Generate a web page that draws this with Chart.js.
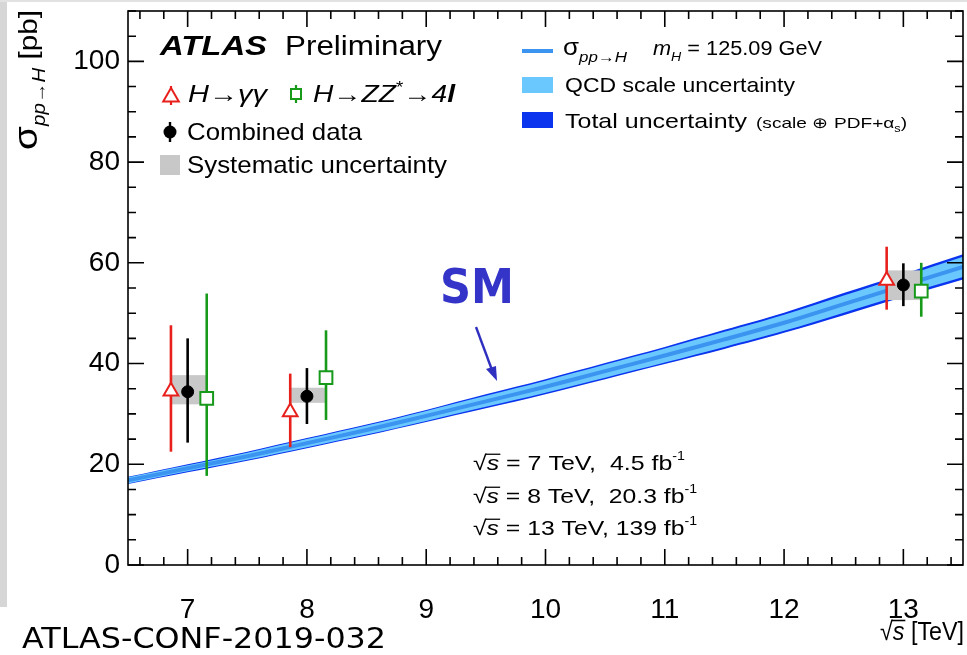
<!DOCTYPE html>
<html>
<head>
<meta charset="utf-8">
<script src="https://cdn.jsdelivr.net/npm/chart.js@4.4.1/dist/chart.umd.min.js"></script>
<style>
  html, body { margin: 0; padding: 0; background: #fff; overflow: hidden; }
  canvas { display: block; }
</style>
</head>
<body>
<canvas id="xsec" width="967" height="655"></canvas>
<script>
// Higgs production cross section vs centre-of-mass energy
const xTicks = [7, 8, 9, 10, 11, 12, 13];
const yTicks = [0, 20, 40, 60, 80, 100];

// SM prediction (pb) on a sqrt(s) grid
const sqrtS      = [6.5, 7, 7.5, 8, 8.5, 9, 9.5, 10, 10.5, 11, 11.5, 12, 12.5, 13, 13.5];
const smCentral  = [16.8, 19.2, 21.6, 24.2, 26.8, 29.6, 32.5, 35.4, 38.5, 41.6, 44.8, 48.1, 51.8, 55.5, 59.2];
const qcdHi      = [17.4, 19.8, 22.3, 25.0, 27.7, 30.6, 33.6, 36.6, 39.8, 43.0, 46.3, 49.7, 53.5, 57.3, 61.2];
const qcdLo      = [16.2, 18.6, 20.9, 23.4, 25.9, 28.6, 31.4, 34.2, 37.2, 40.2, 43.3, 46.5, 50.1, 53.7, 57.2];
const totHi      = [17.5, 20.0, 22.5, 25.2, 27.9, 30.8, 33.9, 36.9, 40.1, 43.3, 46.7, 50.1, 54.0, 57.8, 61.7];
const totLo      = [16.1, 18.4, 20.7, 23.2, 25.7, 28.4, 31.1, 33.9, 36.9, 39.9, 42.9, 46.1, 49.6, 53.2, 56.7];

// measurements (pb)
const ggX   = [6.86, 7.86, 12.86];
const ggY   = [34.5, 30.4, 56.5];
const ggLo  = [22.5, 23.4, 50.7];
const ggHi  = [47.6, 38.0, 63.2];

const zzX   = [7.16, 8.16, 13.15];
const zzY   = [33.1, 37.2, 54.4];
const zzLo  = [17.7, 28.8, 49.3];
const zzHi  = [53.9, 46.6, 60.0];

const combX  = [7, 8, 13];
const combY  = [34.4, 33.5, 55.6];
const combLo = [24.3, 28.0, 51.4];
const combHi = [45.0, 39.1, 59.9];

const sysLo = [31.9, 32.2, 52.6];
const sysHi = [37.7, 35.2, 58.5];

const F = 'Liberation Sans';
const RED = '#e8201c', GREEN = '#17991a', GREY = '#c8c8c8';
const LINE_BLUE = '#3b94f0', QCD_BLUE = '#6ac8ff', TOT_BLUE = '#0a34ee';

const pts = (xs, ys) => xs.map((x, i) => ({ x: x, y: ys[i] }));

// draw a run of text pieces (font size, style, vertical shift), optionally squeezed to a width
function rich(ctx, x, y, parts, width) {
  let total = 0;
  const ws = parts.map(p => {
    ctx.font = `${p.st || ''} ${p.s}px ${p.fam || F}`;
    const w = ctx.measureText(p.t).width;
    total += w;
    return w;
  });
  ctx.save();
  ctx.translate(x, y);
  if (width) ctx.scale(width / total, 1);
  let cx = 0;
  parts.forEach((p, i) => {
    ctx.font = `${p.st || ''} ${p.s}px ${p.fam || F}`;
    ctx.fillText(p.t, cx, p.dy || 0);
    if (p.over) ctx.fillRect(cx - 1, (p.dy || 0) - p.s * 0.78, ws[i] + 2, Math.max(1.2, p.s * 0.06));
    cx += ws[i];
  });
  ctx.restore();
}

function triangle(ctx, x, y, r) {
  ctx.beginPath();
  ctx.moveTo(x, y - r);
  ctx.lineTo(x + r * 0.866, y + r / 2);
  ctx.lineTo(x - r * 0.866, y + r / 2);
  ctx.closePath();
}

const bandLine = (data, extra) => Object.assign({
  data: data, showLine: true, pointRadius: 0, borderWidth: 0, tension: 0.35
}, extra);

// the frame runs to 4px from the right edge of the canvas
const pinArea = {
  id: 'pinArea',
  afterLayout(chart) {
    const a = chart.chartArea, xs = chart.scales.x;
    a.right = chart.width - 4;
    a.width = a.right - a.left;
    xs.right = a.right;
    xs.width = xs.right - xs.left;
    xs.configure();
  }
};

const backdrop = {
  id: 'backdrop',
  beforeDraw(chart) {
    const c = chart.ctx;
    c.save();
    c.fillStyle = '#fff';
    c.fillRect(0, 0, chart.width, chart.height);
    c.fillStyle = '#d6d6d6';
    c.fillRect(0, 0, 7, 607);
    c.fillStyle = '#e2e2e2';
    c.fillRect(0, 0, chart.width, 2);
    c.restore();
  }
};

// systematic boxes and error bars, drawn on top of the SM band
const errorBars = {
  id: 'errorBars',
  afterDatasetDraw(chart, args) {
    if (args.index !== 3) return;
    const c = chart.ctx, xs = chart.scales.x, ys = chart.scales.y;
    const a = chart.chartArea;
    c.save();
    c.beginPath();
    c.rect(a.left, a.top, a.right - a.left, a.bottom - a.top);
    c.clip();
    c.fillStyle = GREY;
    combX.forEach((x, i) => {
      const x0 = xs.getPixelForValue(ggX[i]), x1 = xs.getPixelForValue(zzX[i]);
      const y0 = ys.getPixelForValue(sysHi[i]), y1 = ys.getPixelForValue(sysLo[i]);
      c.fillRect(x0, y0, x1 - x0, y1 - y0);
    });
    const bars = [[ggX, ggLo, ggHi, RED], [zzX, zzLo, zzHi, GREEN], [combX, combLo, combHi, '#000']];
    c.lineWidth = 2.6;
    bars.forEach(([bx, lo, hi, col]) => {
      c.strokeStyle = col;
      bx.forEach((x, i) => {
        const px = xs.getPixelForValue(x);
        c.beginPath();
        c.moveTo(px, ys.getPixelForValue(lo[i]));
        c.lineTo(px, ys.getPixelForValue(hi[i]));
        c.stroke();
      });
    });
    c.restore();
  }
};

// frame with inward ticks on all four sides
const frame = {
  id: 'frame',
  afterDraw(chart) {
    const c = chart.ctx, xs = chart.scales.x, ys = chart.scales.y;
    const a = chart.chartArea;
    c.save();
    c.strokeStyle = '#000';
    c.lineWidth = 1.6;
    c.strokeRect(a.left, a.top, a.right - a.left, a.bottom - a.top);
    c.beginPath();
    for (let v = 0; v <= 110; v += 5) {
      const py = ys.getPixelForValue(v);
      const len = v % 20 === 0 ? 16 : 8;
      c.moveTo(a.left, py); c.lineTo(a.left + len, py);
      c.moveTo(a.right, py); c.lineTo(a.right - len, py);
    }
    for (let k = 33; k <= 67; k++) {
      const px = xs.getPixelForValue(k / 5);
      const len = k % 5 === 0 ? 16 : 8;
      c.moveTo(px, a.bottom); c.lineTo(px, a.bottom - len);
      c.moveTo(px, a.top); c.lineTo(px, a.top + len);
    }
    c.stroke();
    c.restore();
  }
};

const labels = {
  id: 'labels',
  afterDraw(chart) {
    const c = chart.ctx;
    c.save();
    c.fillStyle = '#000';
    c.textBaseline = 'alphabetic';
    c.textAlign = 'left';

    // experiment label
    rich(c, 160, 55, [{ t: 'ATLAS', s: 28, st: 'italic bold' }], 107);
    rich(c, 285, 55, [{ t: 'Preliminary', s: 28 }], 157);

    // left legend
    c.lineWidth = 2.2;
    c.strokeStyle = RED;
    c.beginPath(); c.moveTo(171, 86); c.lineTo(171, 105); c.stroke();
    c.fillStyle = '#fff'; c.lineWidth = 2;
    triangle(c, 171, 97, 9); c.fill(); c.stroke();
    c.fillStyle = '#000';
    rich(c, 188, 102, [{ t: 'H→γγ', s: 24, st: 'italic' }], 79);

    c.strokeStyle = GREEN; c.lineWidth = 2.2;
    c.beginPath(); c.moveTo(296, 85); c.lineTo(296, 103); c.stroke();
    c.fillStyle = '#fff'; c.lineWidth = 2;
    c.fillRect(291, 89, 10, 10); c.strokeRect(291, 89, 10, 10);
    c.fillStyle = '#000';
    rich(c, 313, 102, [
      { t: 'H→ZZ', s: 24, st: 'italic' },
      { t: '*', s: 16, dy: -9 },
      { t: '→4', s: 24, st: 'italic' },
      { t: 'l', s: 24, st: 'italic bold' }
    ], 142);

    c.strokeStyle = '#000'; c.lineWidth = 2.4;
    c.beginPath(); c.moveTo(170, 122); c.lineTo(170, 142); c.stroke();
    c.beginPath(); c.arc(170, 132, 6.5, 0, Math.PI * 2); c.fill();
    rich(c, 187, 140, [{ t: 'Combined data', s: 24 }], 175);

    c.fillStyle = GREY;
    c.fillRect(160, 155, 20, 20);
    c.fillStyle = '#000';
    rich(c, 187, 173, [{ t: 'Systematic uncertainty', s: 24 }], 260);

    // right legend
    c.strokeStyle = LINE_BLUE; c.lineWidth = 4;
    c.beginPath(); c.moveTo(522, 51); c.lineTo(553, 51); c.stroke();
    rich(c, 563, 55, [
      { t: 'σ', s: 23 },
      { t: 'pp→H', s: 15, st: 'italic', dy: 7 }
    ], 64);
    rich(c, 653, 55, [
      { t: 'm', s: 20, st: 'italic' },
      { t: 'H', s: 13, st: 'italic', dy: 6 },
      { t: ' = 125.09 GeV', s: 20 }
    ], 169);
    c.fillStyle = QCD_BLUE; c.fillRect(522, 77, 31, 16);
    c.fillStyle = TOT_BLUE; c.fillRect(522, 112, 31, 16);
    c.fillStyle = '#000';
    rich(c, 565, 92, [{ t: 'QCD scale uncertainty', s: 21 }], 230);
    rich(c, 565, 128, [{ t: 'Total uncertainty', s: 21 }], 182);
    rich(c, 756, 128, [
      { t: '(scale ⊕ PDF+α', s: 15 },
      { t: 's', s: 10, dy: 4 },
      { t: ')', s: 15 }
    ], 151);

    // datasets
    const lumi = [
      [' = 7 TeV,  4.5 fb', 470, 212],
      [' = 8 TeV,  20.3 fb', 503, 224],
      [' = 13 TeV, 139 fb', 535, 224]
    ];
    lumi.forEach(([t, y, w]) => {
      rich(c, 473, y, [
        { t: '√', s: 21 },
        { t: 's', s: 21, st: 'italic', over: true },
        { t: t, s: 21 },
        { t: '-1', s: 12, dy: -10 }
      ], w);
    });

    // axis titles
    rich(c, 880, 640, [
      { t: '√', s: 26 },
      { t: 's', s: 26, st: 'italic', over: true },
      { t: ' [TeV]', s: 26 }
    ], 84);

    c.save();
    c.translate(37, 150);
    c.rotate(-Math.PI / 2);
    rich(c, 0, 0, [
      { t: 'σ', s: 34 },
      { t: 'pp→H', s: 18, st: 'italic', dy: 8 },
      { t: ' [pb]', s: 26 }
    ], 140);
    c.restore();

    // SM annotation
    c.fillStyle = '#3434c8';
    rich(c, 440, 303, [{ t: 'SM', s: 48, st: 'bold', fam: '"Comic Sans MS", "DejaVu Sans"' }], 74);
    c.strokeStyle = '#3030c0'; c.lineWidth = 2.4;
    c.beginPath(); c.moveTo(476, 327); c.lineTo(492, 370); c.stroke();
    c.beginPath();
    c.moveTo(497, 381); c.lineTo(486, 369); c.lineTo(496, 366); c.closePath();
    c.fillStyle = '#3030c0'; c.fill();

    c.fillStyle = '#000';
    rich(c, 22, 648, [{ t: 'ATLAS-CONF-2019-032', s: 28, fam: '"Comic Sans MS", "DejaVu Sans"' }], 364);
    c.restore();
  }
};

// keep the plot frame fixed: no extra room for half-height tick labels
const fixPadding = s => { s.paddingTop = 0; s.paddingBottom = 0; s.paddingLeft = 0; s.paddingRight = 0; };

new Chart(document.getElementById('xsec'), {
  type: 'scatter',
  data: {
    datasets: [
      { data: pts(ggX, ggY), pointStyle: 'triangle', pointRadius: 8.5, borderColor: RED, backgroundColor: '#fff', borderWidth: 2, order: 0 },
      { data: pts(zzX, zzY), pointStyle: 'rect', pointRadius: 9, borderColor: GREEN, backgroundColor: '#fff', borderWidth: 2, order: 0 },
      { data: pts(combX, combY), pointStyle: 'circle', pointRadius: 6, borderColor: '#000', backgroundColor: '#000', borderWidth: 1, order: 0 },
      bandLine(pts(sqrtS, smCentral), { borderWidth: 4, borderColor: LINE_BLUE, order: 1 }),
      bandLine(pts(sqrtS, qcdHi), { fill: '+1', backgroundColor: QCD_BLUE, order: 2 }),
      bandLine(pts(sqrtS, qcdLo), { order: 2 }),
      bandLine(pts(sqrtS, totHi), { fill: '+1', backgroundColor: TOT_BLUE, order: 3 }),
      bandLine(pts(sqrtS, totLo), { order: 3 })
    ]
  },
  options: {
    responsive: false,
    animation: false,
    events: [],
    layout: { padding: { left: 0, right: 4, top: 10, bottom: 0 } },
    plugins: { legend: { display: false }, tooltip: { enabled: false } },
    scales: {
      x: {
        type: 'linear', min: 6.5, max: 13.5,
        grid: { display: false, drawTicks: false },
        border: { display: false },
        afterBuildTicks: s => { s.ticks = xTicks.map(v => ({ value: v })); },
        afterFit: s => { s.height = 90; fixPadding(s); },
        ticks: { font: { family: F, size: 28 }, color: '#000', padding: 28, maxRotation: 0, autoSkip: false }
      },
      y: {
        type: 'linear', min: 0, max: 110,
        grid: { display: false, drawTicks: false },
        border: { display: false },
        afterBuildTicks: s => { s.ticks = yTicks.map(v => ({ value: v })); },
        afterFit: s => { s.width = 128; fixPadding(s); },
        ticks: { font: { family: F, size: 28 }, color: '#000', padding: 8, autoSkip: false }
      }
    }
  },
  plugins: [pinArea, backdrop, errorBars, frame, labels]
});
</script>
</body>
</html>
